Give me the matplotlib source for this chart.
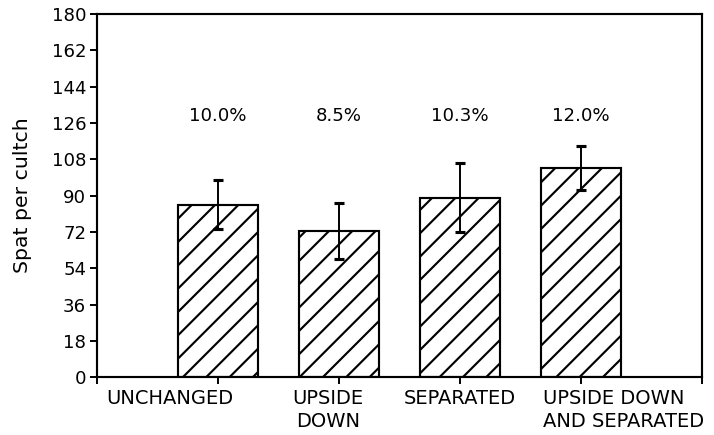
import matplotlib
matplotlib.use('Agg')
import matplotlib.pyplot as plt

# values
treatments = ['UNCHANGED', 'UPSIDE\nDOWN', 'SEPARATED', 'UPSIDE DOWN\nAND SEPARATED']
spat = [85.5, 72.5, 89.0, 103.5]
err = [12.0, 14.0, 17.0, 11.0]
percent = ['10.0%', '8.5%', '10.3%', '12.0%']
yticks = [0, 18, 36, 54, 72, 90, 108, 126, 144, 162, 180]

plt.rcParams['font.family'] = 'DejaVu Sans'
plt.rcParams['hatch.linewidth'] = 1.1

fig = plt.figure(figsize=(714 / 140, 435 / 140), dpi=140)
ax = fig.add_axes([0.136, 0.133, 0.847, 0.835])

pos = [1, 2, 3, 4]
ax.bar(pos, spat, width=0.66, color='white', edgecolor='black',
       linewidth=1.1, hatch='//')
ax.errorbar(pos, spat, yerr=err, fmt='none', ecolor='black',
            elinewidth=1.0, capsize=2.5, capthick=1.6)

for x, p in zip(pos, percent):
    ax.text(x, 129.5, p, ha='center', va='center', fontsize=9.3)

ax.set_xlim(0, 5)
ax.set_ylim(0, 180)
ax.set_yticks(yticks)
ax.set_xticks([0, 1, 2, 3, 4, 5])
ax.set_xticklabels([])
ax.tick_params(axis='y', direction='out', length=3.6, width=1.0, labelsize=9.3, pad=2)
ax.tick_params(axis='x', direction='out', length=3.6, width=1.0)
for s in ax.spines.values():
    s.set_linewidth(1.1)

# category labels sit off the tick marks in the original
label_x = [0.6, 1.91, 3.0, 3.69]
label_ha = ['center', 'center', 'center', 'left']
for x, t, ha in zip(label_x, treatments, label_ha):
    ax.text(x, -6, t, ha=ha, va='top', fontsize=10, linespacing=1.25,
            multialignment='center' if ha == 'center' else 'left',
            clip_on=False)

ax.set_ylabel('Spat per cultch', fontsize=10.5, labelpad=10)

fig.savefig('out.png', dpi=140)
